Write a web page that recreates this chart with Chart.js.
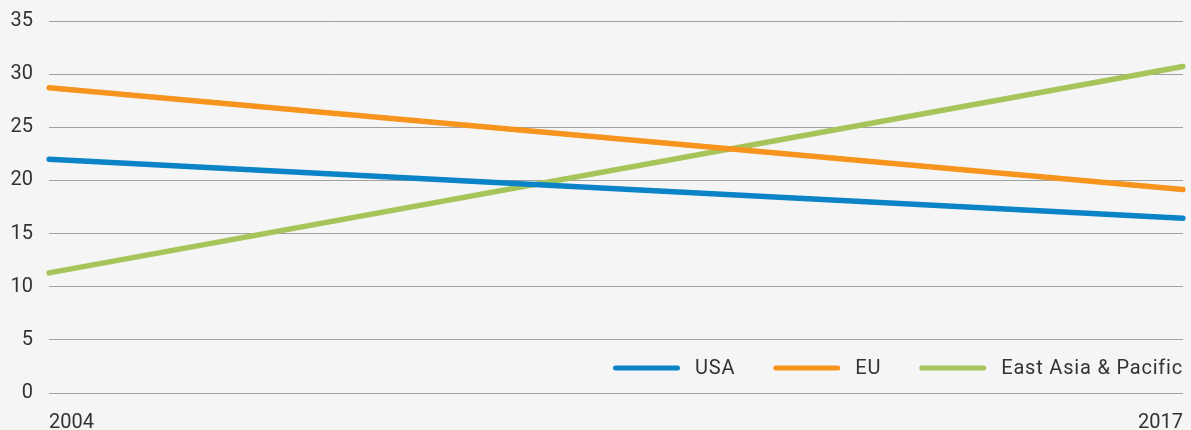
<!DOCTYPE html>
<html>
<head>
<meta charset="utf-8">
<script src="https://cdn.jsdelivr.net/npm/chart.js@4"></script>
<style>
  html, body { margin: 0; padding: 0; background: #f5f5f5; }
  #wrap { width: 1191px; height: 430px; }
</style>
</head>
<body>
<div id="wrap"><canvas id="myLineChart"></canvas></div>
<script>
// years on the x axis
var years = ['2004', '2017'];
// series values
var usa = [22.0, 16.45];
var eu = [28.72, 19.15];
var eastAsia = [11.3, 30.72];
// y axis ticks
var yTicks = [0, 5, 10, 15, 20, 25, 30, 35];

// legend drawn inside the plot, bottom right
var insideLegend = {
  id: 'insideLegend',
  afterDraw: function(chart) {
    var ctx = chart.ctx;
    var area = chart.chartArea;
    var sets = chart.data.datasets;
    var y = area.bottom - 25;
    var swatch = 67, gap = 15, itemGap = 38;
    ctx.save();
    ctx.font = '20px Roboto';
    ctx.letterSpacing = '0.8px';
    ctx.textBaseline = 'middle';
    // measure total width, align to the right edge
    var total = 0;
    sets.forEach(function(ds, i) {
      total += swatch + gap + ctx.measureText(ds.label).width;
      if (i < sets.length - 1) total += itemGap;
    });
    var x = area.right - total;
    sets.forEach(function(ds) {
      ctx.strokeStyle = ds.borderColor;
      ctx.lineWidth = 5;
      ctx.lineCap = 'round';
      ctx.beginPath();
      ctx.moveTo(x + 2.5, y);
      ctx.lineTo(x + swatch - 2.5, y);
      ctx.stroke();
      x += swatch + gap;
      ctx.fillStyle = '#333';
      ctx.fillText(ds.label, x, y + 1);
      x += ctx.measureText(ds.label).width + itemGap;
    });
    ctx.restore();
  }
};

var ctx = document.getElementById('myLineChart');
var myLineChart = new Chart(ctx, {
  type: 'line',
  data: {
    labels: years,
    datasets: [
      { label: 'USA', data: usa, borderColor: '#0a84c6' },
      { label: 'EU', data: eu, borderColor: '#f7941d' },
      { label: 'East Asia & Pacific', data: eastAsia, borderColor: '#a6c45a' }
    ]
  },
  options: {
    responsive: true,
    maintainAspectRatio: false,
    animation: false,
    layout: { padding: { left: 10, right: 8, top: 21, bottom: 0 } },
    elements: {
      line: { borderWidth: 5.5, borderCapStyle: 'round', tension: 0 },
      point: { radius: 0, hoverRadius: 0 }
    },
    plugins: {
      legend: { display: false },
      tooltip: { enabled: false }
    },
    scales: {
      x: {
        afterFit: function(axis) {
          axis.height = 37;
          axis.paddingLeft = 0;
          axis.paddingRight = 0;
        },
        grid: { display: false, drawTicks: false },
        border: { display: false },
        ticks: {
          align: 'inner',
          maxRotation: 0,
          padding: 18,
          color: '#333',
          font: { family: 'Roboto', size: 20 }
        }
      },
      y: {
        min: 0,
        max: 35,
        afterBuildTicks: function(axis) {
          axis.ticks = yTicks.map(function(v) { return { value: v }; });
        },
        afterFit: function(axis) {
          axis.width = 39;
          axis.paddingTop = 0;
          axis.paddingBottom = 0;
        },
        grid: { color: '#a0a0a0', lineWidth: 1, drawTicks: false },
        border: { display: false },
        ticks: {
          padding: 16,
          color: '#333',
          font: { family: 'Roboto', size: 20 }
        }
      }
    }
  },
  plugins: [insideLegend]
});
</script>
</body>
</html>
